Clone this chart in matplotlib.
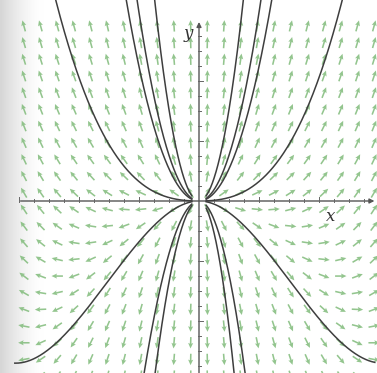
import numpy as np
import matplotlib.pyplot as plt

# solution family y = c*x^2 + d*|x|^3  (x*y' = 2y + d*x*|x|*x)
d_coef = 0.19
c_upper = [0.134, 2.05, 2.95, 6.0]
c_lower_left = [-0.87, -3.6, -5.5]
c_lower_right = [-0.87, -5.0, -8.5]

# direction field grid spacing
step = 0.278

def slope(x, y):
    return 2 * y / x + d_coef * x * np.abs(x)

fig = plt.figure(figsize=(3.77, 3.73), dpi=100)
ax = fig.add_axes([0, 0, 1, 1])
xmin, xmax = -199 / 60, 178 / 60
ymin, ymax = -172 / 60, 201 / 60
ax.set_xlim(xmin, xmax)
ax.set_ylim(ymin, ymax)
ax.set_aspect('auto')
ax.axis('off')

# scanned page shading on the left edge
grad = np.linspace(0, 1, 200)
shade = np.clip(1 - grad * 9, 0, 1) ** 1.5
img = np.ones((2, 200, 3))
for k in range(3):
    img[:, :, k] = 1 - 0.16 * shade
ax.imshow(img, extent=[xmin, xmax, ymin, ymax], aspect='auto', zorder=0)

# direction field
gx = (np.arange(22) - 10.5) * step
gy = (np.arange(22) - 10.5) * step
X, Y = np.meshgrid(gx, gy)
F = slope(X, Y)
U = np.sign(X)
V = np.sign(X) * F
N = np.hypot(U, V)
ax.quiver(X, Y, U / N, V / N, color='#80bb7a', pivot='mid', angles='xy',
          scale_units='xy', scale=1 / 0.19, width=0.0042, headwidth=3.2,
          headlength=3.5, headaxislength=3.0, alpha=0.85, zorder=2)

# axes with arrows
ax.annotate('', xy=(2.97, 0), xytext=(-3.02, 0),
            arrowprops=dict(arrowstyle='-|>', color='#555555', lw=1.0,
                            mutation_scale=7), zorder=3)
ax.annotate('', xy=(0, 3.03), xytext=(0, ymin - 0.05),
            arrowprops=dict(arrowstyle='-|>', color='#555555', lw=1.0,
                            mutation_scale=7), zorder=3)
for t in np.arange(-3, 3.0, 0.25):
    h = 0.06 if abs(t - round(t)) < 1e-6 else 0.03
    if abs(t) > 1e-6:
        ax.plot([t, t], [-h * 0.3, h], color='#666666', lw=0.7, zorder=3)
for t in np.arange(-2.75, 3.0, 0.25):
    h = 0.06 if abs(t - round(t)) < 1e-6 else 0.03
    if abs(t) > 1e-6:
        ax.plot([-h * 0.3, h], [t, t], color='#666666', lw=0.7, zorder=3)

ax.text(2.2, -0.12, 'x', fontsize=12, family='DejaVu Serif', style='italic',
        color='#333333', va='top', ha='center', zorder=4)
ax.text(-0.17, 2.8, 'y', fontsize=12, family='DejaVu Serif', style='italic',
        color='#333333', va='center', ha='center', zorder=4)

# solution curves, drawn over the same x-range as the axis
xr_right = np.linspace(0.12, 2.93, 600)
xr_left = np.linspace(0.12, 3.07, 600)
curve_kw = dict(color='#3e3e3e', lw=1.1, zorder=5)
for c in c_upper:
    ax.plot(xr_right, c * xr_right ** 2 + d_coef * xr_right ** 3, **curve_kw)
    ax.plot(-xr_left, c * xr_left ** 2 + d_coef * xr_left ** 3, **curve_kw)
for c in c_lower_right:
    ax.plot(xr_right, c * xr_right ** 2 + d_coef * xr_right ** 3, **curve_kw)
for c in c_lower_left:
    ax.plot(-xr_left, c * xr_left ** 2 + d_coef * xr_left ** 3, **curve_kw)

fig.savefig('out.png', dpi=100)
